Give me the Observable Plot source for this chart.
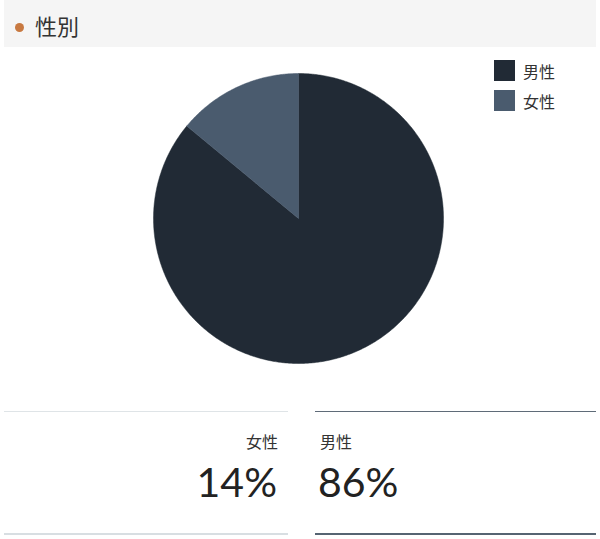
<!DOCTYPE html>
<html>
<head>
<meta charset="utf-8">
<script src="https://cdn.jsdelivr.net/npm/d3@7"></script>
<script src="https://cdn.jsdelivr.net/npm/@observablehq/plot@0.6"></script>
<style>
  html, body { margin: 0; padding: 0; background: #fff; }
  body { width: 600px; height: 539px; position: relative; overflow: hidden;
         font-family: "Noto Sans CJK JP", "Noto Sans", sans-serif; color: #333; }
  #header { position: absolute; left: 4px; top: 0; width: 592px; height: 47px; background: #f5f5f5; }
  #header .dot { position: absolute; left: 11px; top: 23px; width: 9px; height: 9px; border-radius: 50%; background: #c87941; }
  #header .title { position: absolute; left: 31px; top: 10px; font-size: 22px; line-height: 30px; color: #333; }
  #chart { position: absolute; left: 0; top: 48px; }
  #legend { position: absolute; left: 494px; top: 60px; }
  .lg { display: flex; align-items: center; height: 21px; margin-bottom: 9px; font-size: 16px; color: #333; }
  .lg .sw { width: 21px; height: 21px; margin-right: 8px; }
  .stat { position: absolute; top: 411px; height: 124px; }
  .stat .top { position: absolute; left: 0; right: 0; top: 0; height: 1px; }
  .stat .bot { position: absolute; left: 0; right: 0; bottom: 0; height: 2px; }
  .stat .lab { position: absolute; top: 18px; font-size: 16px; line-height: 24px; color: #333; }
  .stat .val { position: absolute; top: 46px; font-family: "Lato", "Noto Sans", sans-serif; font-weight: 400; font-size: 41px; line-height: 50px; color: #222; }
</style>
</head>
<body>
<div id="header"><div class="dot"></div><div class="title"></div></div>
<div id="chart"></div>
<div id="legend"></div>
<div id="stats"></div>
<script>
const title = "性別";
const categories = ["男性", "女性"];
const shares = [86, 14];
const colors = ["#212a35", "#4a5b6e"];
const statOrder = ["女性", "男性"];
const statLabels = ["14%", "86%"];

document.querySelector("#header .title").textContent = title;

const data = categories.map((c, i) => ({gender: c, value: shares[i]}));
const arcs = d3.pie().sort(null).value(d => d.value)(data);

// Build slice outlines (geometry only) from the pie angles
const pts = [];
for (const a of arcs) {
  const g = a.data.gender;
  pts.push({gender: g, x: 0, y: 0});
  const n = Math.max(2, Math.ceil((a.endAngle - a.startAngle) / (Math.PI / 360)));
  for (let k = 0; k <= n; k++) {
    const t = a.startAngle + (a.endAngle - a.startAngle) * k / n;
    pts.push({gender: g, x: Math.sin(t), y: Math.cos(t)});
  }
  pts.push({gender: g, x: 0, y: 0});
}

const cx = 298, cy = 170, r = 145;
const plot = Plot.plot({
  width: 600,
  height: 360,
  margin: 0,
  x: {domain: [-1, 1], range: [cx - r, cx + r], axis: null},
  y: {domain: [-1, 1], range: [cy + r, cy - r], axis: null},
  color: {domain: categories, range: colors},
  marks: [
    Plot.line(pts, {x: "x", y: "y", z: "gender", fill: "gender", stroke: "gender", strokeWidth: 0.5, curve: "linear"})
  ]
});
document.getElementById("chart").appendChild(plot);

const cs = plot.scale("color");
const lg = document.getElementById("legend");
for (const c of categories) {
  const row = document.createElement("div");
  row.className = "lg";
  row.innerHTML = `<div class="sw" style="background:${cs.apply(c)}"></div><span>${c}</span>`;
  lg.appendChild(row);
}

const st = document.getElementById("stats");
const blocks = [
  {left: 4, width: 284, align: "right", topC: "#dfe4e7", botC: "#d8dee2", labPos: "right:10px", valPos: "right:11px"},
  {left: 315, width: 281, align: "left", topC: "#5f6b78", botC: "#566472", labPos: "left:5px", valPos: "left:3px"}
];
statOrder.forEach((lab, i) => {
  const b = blocks[i];
  const d = document.createElement("div");
  d.className = "stat";
  d.style.left = b.left + "px";
  d.style.width = b.width + "px";
  d.innerHTML = `<div class="top" style="background:${b.topC}"></div>
    <div class="lab" style="${b.labPos}">${lab}</div>
    <div class="val" style="${b.valPos}">${statLabels[i]}</div>
    <div class="bot" style="background:${b.botC}"></div>`;
  st.appendChild(d);
});
</script>
</body>
</html>
